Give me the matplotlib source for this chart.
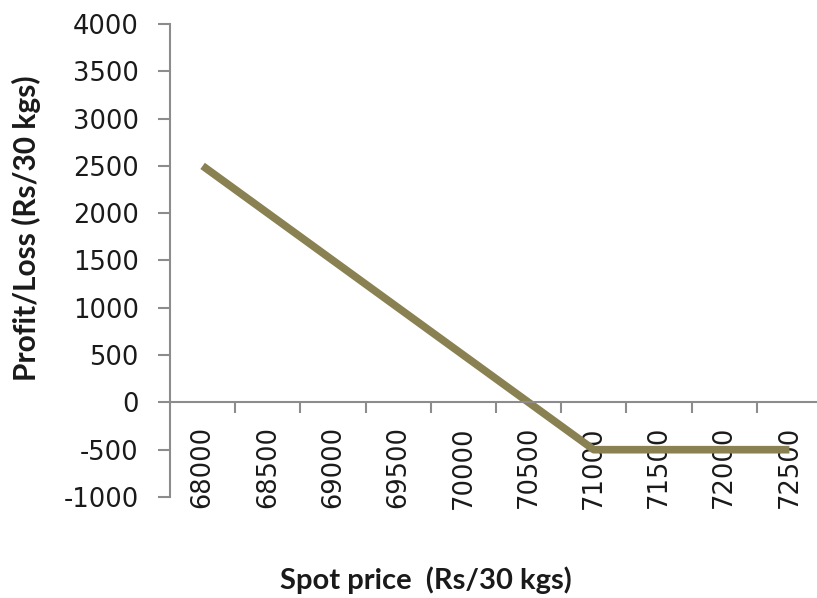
import matplotlib.pyplot as plt
import numpy as np

# Payoff at each spot price
spot_prices = ['68000', '68500', '69000', '69500', '70000',
               '70500', '71000', '71500', '72000', '72500']
profit_loss = [2500, 2000, 1500, 1000, 500, 0, -500, -500, -500, -500]
y_ticks = [-1000, -500, 0, 500, 1000, 1500, 2000, 2500, 3000, 3500, 4000]

LINE_COLOR = '#8a8152'
AXIS_COLOR = '#8c8c8c'
TEXT_COLOR = '#1a1a1a'

fig = plt.figure(figsize=(8.17, 5.98), dpi=100)
ax = fig.add_axes([0.2081, 0.1689, 0.798, 0.791])

x = np.arange(len(spot_prices))
ax.plot(x, profit_loss, color=LINE_COLOR, linewidth=5.5,
        solid_joinstyle='round', solid_capstyle='butt')

ax.set_xlim(-0.5, len(spot_prices) - 0.5)
ax.set_ylim(-1000, 4000)

# y axis
ax.set_yticks(y_ticks)
ax.set_yticklabels([str(v) for v in y_ticks])
ax.tick_params(axis='y', direction='out', length=8.5, width=1.5,
               color=AXIS_COLOR, labelsize=18.5, labelcolor=TEXT_COLOR, pad=14)

# category axis crossing at zero, ticks between categories
ax.spines['bottom'].set_position(('data', 0))
ax.set_xticks(np.arange(0.5, len(spot_prices) - 0.5, 1.0))
ax.set_xticklabels([])
ax.set_xticks(x, minor=True)
ax.set_xticklabels(spot_prices, minor=True, rotation=90, va='top', ha='center')
ax.tick_params(axis='x', which='major', direction='out', length=8, width=1.5,
               color=AXIS_COLOR)
ax.tick_params(axis='x', which='minor', length=0, labelsize=18.5,
               labelcolor=TEXT_COLOR, pad=17)

for side in ['top', 'right']:
    ax.spines[side].set_visible(False)
for side in ['left', 'bottom']:
    ax.spines[side].set_color(AXIS_COLOR)
    ax.spines[side].set_linewidth(1.5)

fig.text(0.032, 0.619, 'Profit/Loss (Rs/30 kgs)', rotation=90, ha='center', va='center',
         fontsize=21.5, fontweight='bold', color=TEXT_COLOR, family='Lato')
fig.text(0.521, 0.030, 'Spot price  (Rs/30 kgs)', ha='center', va='center',
         fontsize=21, fontweight='bold', color=TEXT_COLOR, family='Lato')

fig.savefig('out.png', dpi=100, facecolor='white')
